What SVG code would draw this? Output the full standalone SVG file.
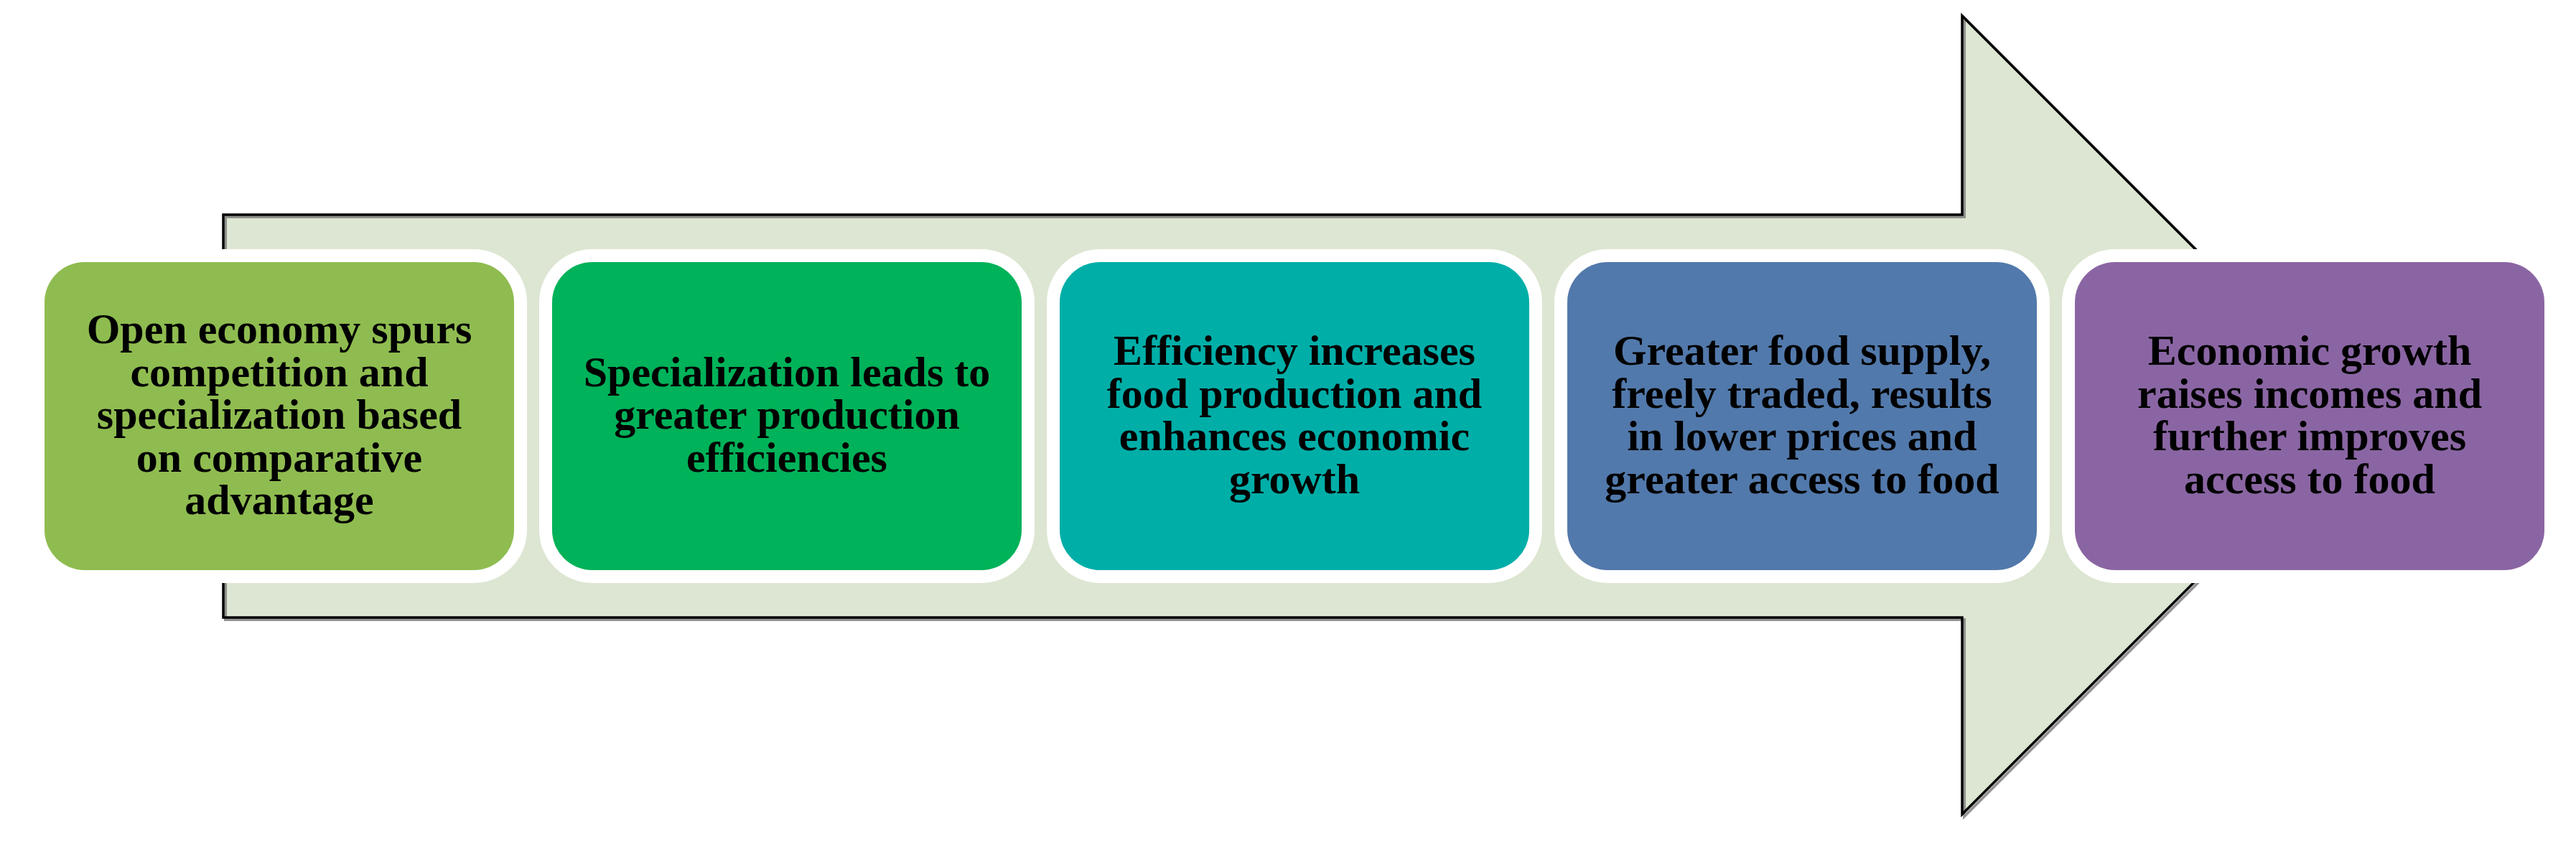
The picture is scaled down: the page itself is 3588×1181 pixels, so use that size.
<svg xmlns="http://www.w3.org/2000/svg" width="3588" height="1181" viewBox="0 0 3588 1181">
<style>
.halo{fill:#ffffff}
.lbl{font-family:"Liberation Serif","Times New Roman",serif;font-weight:bold;font-size:60px;fill:#000000;text-anchor:middle}
</style>
<rect width="3588" height="1181" fill="#ffffff"/>
<g id="arrow">
<polygon points="311,299 2733,299 2733,22 3289,578 2733,1134 2733,860 311,860" fill="#dce6d2"/>
<polygon points="311,299 2733,299 2733,22 3289,578 2733,1134 2733,860 311,860" fill="none" stroke="#7a7a7a" stroke-width="4" transform="translate(3,3)" opacity="0.8"/>
<polygon points="311,299 2733,299 2733,22 3289,578 2733,1134 2733,860 311,860" fill="none" stroke="#000000" stroke-width="3.5"/>
</g>
<g id="node1">
<rect class="halo" x="44" y="347" width="690" height="465" rx="74"/>
<rect x="62" y="365" width="654" height="429" rx="56" fill="#8fbc50"/>
<text class="lbl"><tspan x="389" y="478">Open economy spurs</tspan><tspan x="389" y="537.5">competition and</tspan><tspan x="389" y="597">specialization based</tspan><tspan x="389" y="656.5">on comparative</tspan><tspan x="389" y="716">advantage</tspan></text>
</g>
<g id="node2">
<rect class="halo" x="751" y="347" width="690" height="465" rx="74"/>
<rect x="769" y="365" width="654" height="429" rx="56" fill="#00b259"/>
<text class="lbl"><tspan x="1096" y="537.5">Specialization leads to</tspan><tspan x="1096" y="597">greater production</tspan><tspan x="1096" y="656.5">efficiencies</tspan></text>
</g>
<g id="node3">
<rect class="halo" x="1458" y="347" width="690" height="465" rx="74"/>
<rect x="1476" y="365" width="654" height="429" rx="56" fill="#00aea8"/>
<text class="lbl"><tspan x="1803" y="508">Efficiency increases</tspan><tspan x="1803" y="567.5">food production and</tspan><tspan x="1803" y="627">enhances economic</tspan><tspan x="1803" y="686.5">growth</tspan></text>
</g>
<g id="node4">
<rect class="halo" x="2165" y="347" width="690" height="465" rx="74"/>
<rect x="2183" y="365" width="654" height="429" rx="56" fill="#5279ab"/>
<text class="lbl"><tspan x="2510" y="508">Greater food supply,</tspan><tspan x="2510" y="567.5">freely traded, results</tspan><tspan x="2510" y="627">in lower prices and</tspan><tspan x="2510" y="686.5">greater access to food</tspan></text>
</g>
<g id="node5">
<rect class="halo" x="2872" y="347" width="690" height="465" rx="74"/>
<rect x="2890" y="365" width="654" height="429" rx="56" fill="#8a65a3"/>
<text class="lbl"><tspan x="3217" y="508">Economic growth</tspan><tspan x="3217" y="567.5">raises incomes and</tspan><tspan x="3217" y="627">further improves</tspan><tspan x="3217" y="686.5">access to food</tspan></text>
</g>
</svg>
